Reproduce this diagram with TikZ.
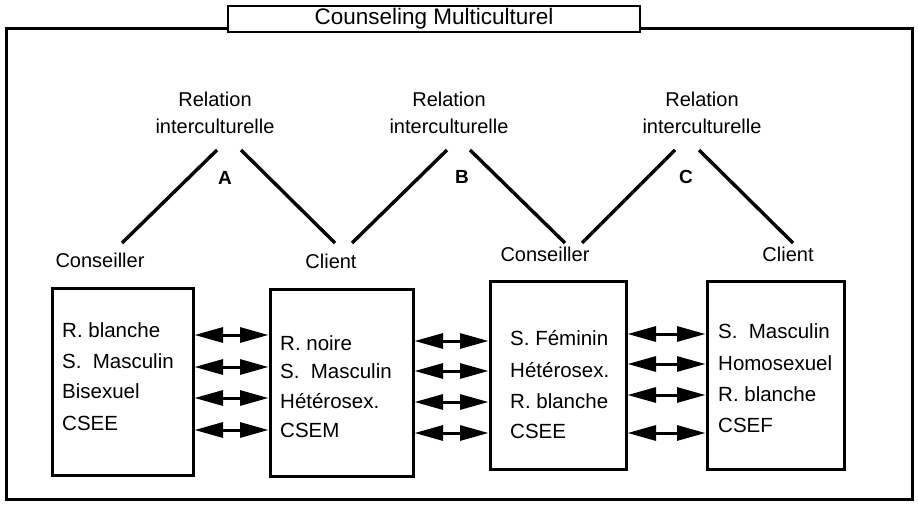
\documentclass[tikz,border=0pt]{standalone}
\usepackage{fontspec}
\setmainfont{Liberation Sans}
\usetikzlibrary{arrows.meta}
\newcommand{\Smasc}{S.\hspace{0.55em}Masculin}
\tikzset{
  frame/.style={draw, line width=3pt},
  titlebox/.style={draw, fill=white, line width=2.8pt, inner sep=0pt,
    minimum width=412pt, minimum height=26pt, font=\fontsize{22.5}{24}\selectfont},
  personbox/.style={draw, line width=3pt, inner sep=0pt},
  item/.style={anchor=west, inner sep=0pt, text height=14pt, text depth=4pt,
    font=\fontsize{20.5}{24}\selectfont},
  lbl/.style={inner sep=0pt, text height=14pt, text depth=4pt,
    font=\fontsize{20}{24}\selectfont},
  rel/.style={inner sep=0pt, align=center, font=\fontsize{20}{27}\selectfont},
  letter/.style={inner sep=0pt, font=\bfseries\fontsize{19}{24}\selectfont},
  link/.style={line width=3.4pt},
  dbl/.style={line width=3pt,
    {Triangle[length=28.5pt,width=15pt]}-{Triangle[length=28.5pt,width=15pt]}}
}
\begin{document}
\begin{tikzpicture}[x=1pt,y=-1pt]
\useasboundingbox (0,0) rectangle (918,506);

% outer frame and title
\draw[frame] (6,28) rectangle (912,499);
\node[titlebox] (title) at (434,19) {Counseling Multiculturel};

% boxes
\node[personbox, minimum width=141pt, minimum height=187pt] (b1) at (122.5,381.5) {};
\node[personbox, minimum width=143pt, minimum height=187pt] (b2) at (341.5,382.5) {};
\node[personbox, minimum width=136pt, minimum height=188pt] (b3) at (558,375) {};
\node[personbox, minimum width=137pt, minimum height=188pt] (b4) at (775.5,375) {};

% box texts
\node[item] (t11) at (62,332) {R. blanche};
\node[item] (t12) at (62,363) {\Smasc};
\node[item] (t13) at (62,393) {Bisexuel};
\node[item] (t14) at (62,425) {CSEE};

\node[item] (t21) at (280,345) {R. noire};
\node[item] (t22) at (280,373) {\Smasc};
\node[item] (t23) at (280,403) {Hétérosex.};
\node[item] (t24) at (280,432) {CSEM};

\node[item] (t31) at (510,340) {S. Féminin};
\node[item] (t32) at (510,372) {Hétérosex.};
\node[item] (t33) at (510,403) {R. blanche};
\node[item] (t34) at (510,433) {CSEE};

\node[item] (t41) at (718,333) {\Smasc};
\node[item] (t42) at (718,365) {Homosexuel};
\node[item] (t43) at (718,396) {R. blanche};
\node[item] (t44) at (718,427) {CSEF};

% arrows between boxes
\foreach \y in {335,367,398,430}
  \draw[dbl] (b1.east |- 0,\y) -- (b2.west |- 0,\y);
\foreach \y in {341,371,402,433}
  \draw[dbl] (b2.east |- 0,\y) -- (b3.west |- 0,\y);
\foreach \y in {334,364,395,433}
  \draw[dbl] (b3.east |- 0,\y) -- (b4.west |- 0,\y);

% role labels
\node[lbl] (co1) at (100,262) {Conseiller};
\node[lbl] (cl1) at (331,263) {Client};
\node[lbl] (co2) at (545,256) {Conseiller};
\node[lbl] (cl2) at (788,256) {Client};

% relation labels
\node[rel] (ra) at (215,113) {Relation\\interculturelle};
\node[rel] (rb) at (449,113) {Relation\\interculturelle};
\node[rel] (rc) at (702,113) {Relation\\interculturelle};
\node[letter] (la) at (225,178) {A};
\node[letter] (lb) at (462,177) {B};
\node[letter] (lc) at (686,177) {C};

% connector end points
\coordinate (aL1) at (122,243); \coordinate (aL2) at (217,150);
\coordinate (aR1) at (241,150); \coordinate (aR2) at (335,243);
\coordinate (bL1) at (352,243); \coordinate (bL2) at (447,150);
\coordinate (bR1) at (470,150); \coordinate (bR2) at (565,243);
\coordinate (cL1) at (582,243); \coordinate (cL2) at (675,150);
\coordinate (cR1) at (699,150); \coordinate (cR2) at (793,243);

\draw[link] (aL1) -- (aL2);
\draw[link] (aR1) -- (aR2);
\draw[link] (bL1) -- (bL2);
\draw[link] (bR1) -- (bR2);
\draw[link] (cL1) -- (cL2);
\draw[link] (cR1) -- (cR2);
\end{tikzpicture}
\end{document}
